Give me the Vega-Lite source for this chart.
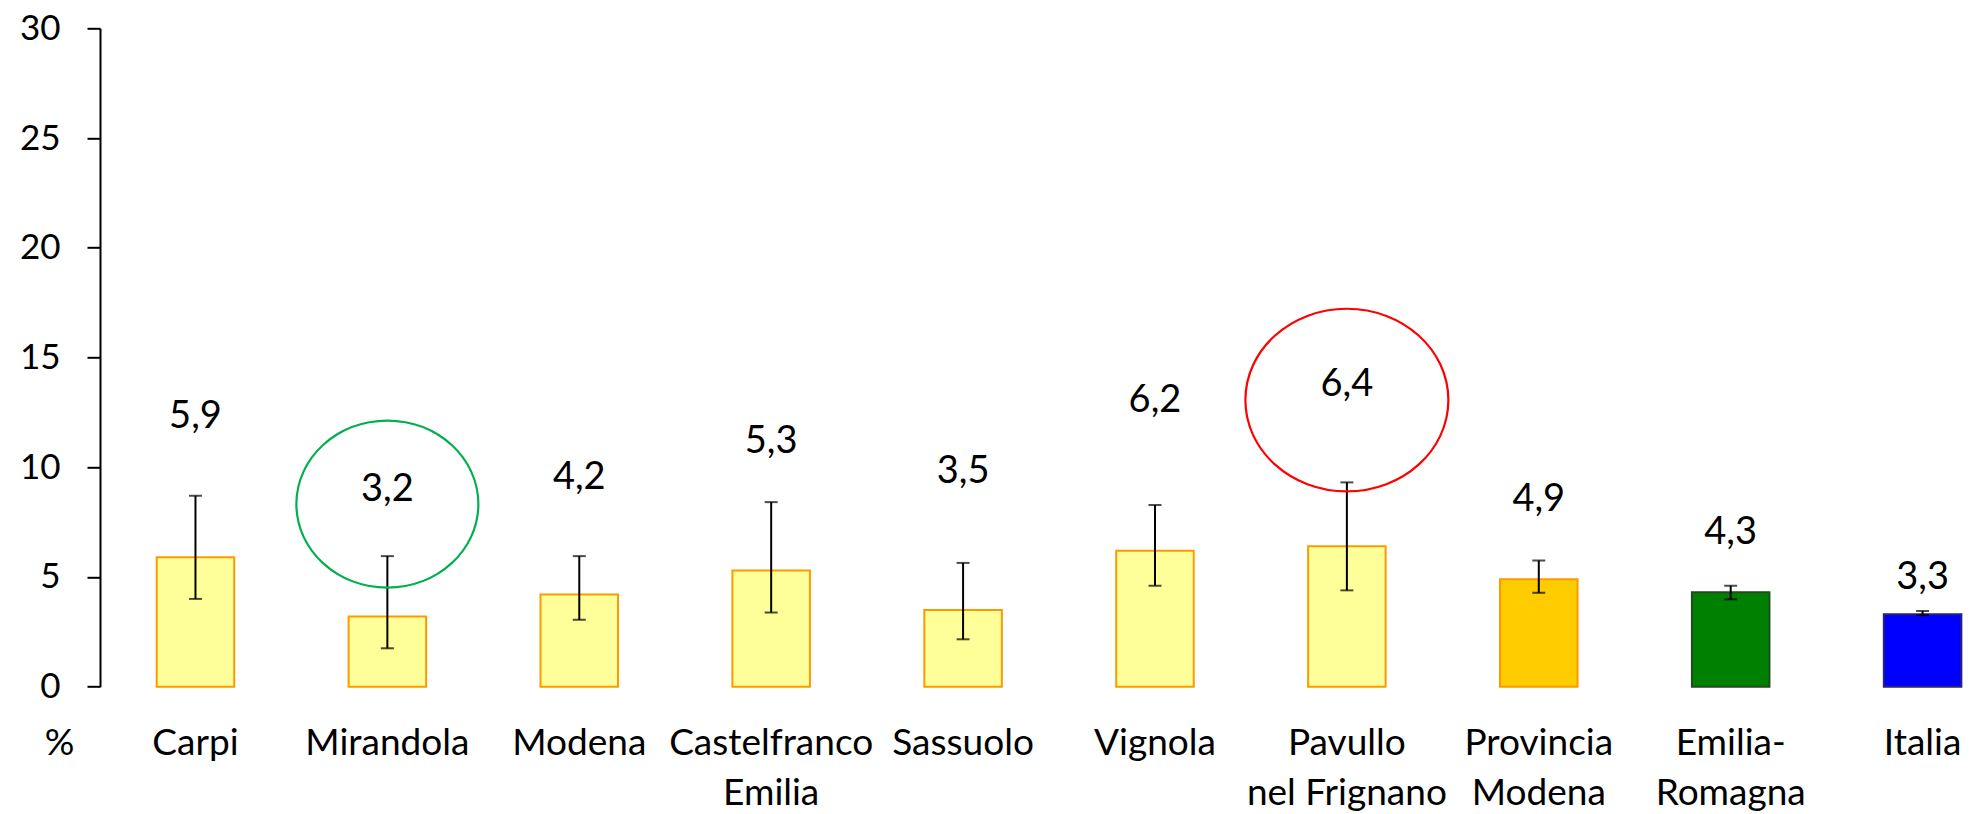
{
  "$schema": "https://vega.github.io/schema/vega-lite/v6.json",
  "width": 1875,
  "height": 658.4,
  "autosize": {"type": "none"},
  "padding": {"left": 100, "top": 28.3, "right": 4, "bottom": 127.3},
  "background": "white",
  "config": {
    "view": {"stroke": null},
    "font": "Lato",
    "locale": {"number": {"decimal": ",", "thousands": ".", "grouping": [3], "currency": ["€", ""]}}
  },
  "datasets": {
    "main": [
      {"luogo": "Carpi", "tipo": "comune", "valore": 5.9, "lo": 4.0, "hi": 8.7, "ly": 12.3},
      {"luogo": "Mirandola", "tipo": "comune", "valore": 3.2, "lo": 1.75, "hi": 5.95, "ly": 8.95},
      {"luogo": "Modena", "tipo": "comune", "valore": 4.2, "lo": 3.05, "hi": 5.95, "ly": 9.5},
      {"luogo": "Castelfranco Emilia", "tipo": "comune", "valore": 5.3, "lo": 3.38, "hi": 8.41, "ly": 11.15},
      {"luogo": "Sassuolo", "tipo": "comune", "valore": 3.5, "lo": 2.16, "hi": 5.64, "ly": 9.78},
      {"luogo": "Vignola", "tipo": "comune", "valore": 6.2, "lo": 4.6, "hi": 8.28, "ly": 13.0},
      {"luogo": "Pavullo nel Frignano", "tipo": "comune", "valore": 6.4, "lo": 4.39, "hi": 9.31, "ly": 13.75},
      {"luogo": "Provincia Modena", "tipo": "provincia", "valore": 4.9, "lo": 4.28, "hi": 5.75, "ly": 8.5},
      {"luogo": "Emilia-Romagna", "tipo": "regione", "valore": 4.3, "lo": 3.98, "hi": 4.6, "ly": 7.0},
      {"luogo": "Italia", "tipo": "italia", "valore": 3.3, "lo": 3.26, "hi": 3.45, "ly": 4.97}
    ],
    "ellissi": [
      {"luogo": "Mirandola", "cy": 8.32, "colore": "verde"},
      {"luogo": "Pavullo nel Frignano", "cy": 13.06, "colore": "rosso"}
    ]
  },
  "encoding": {
    "x": {
      "field": "luogo",
      "type": "nominal",
      "sort": null,
      "scale": {
        "domain": ["Carpi", "Mirandola", "Modena", "Castelfranco Emilia", "Sassuolo", "Vignola", "Pavullo nel Frignano", "Provincia Modena", "Emilia-Romagna", "Italia"],
        "paddingInner": 0.596,
        "paddingOuter": 0.1833,
        "align": 0.806,
        "round": false
      },
      "axis": {
        "title": null,
        "domain": false,
        "ticks": false,
        "tickSize": 0,
        "labelAngle": 0,
        "labelFont": "Lato",
        "labelFontSize": 37,
        "labelColor": "black",
        "labelPadding": 38.3,
        "labelLineHeight": 50,
        "labelLimit": 500,
        "labelOverlap": false,
        "labelExpr": "datum.label == 'Castelfranco Emilia' ? ['Castelfranco', 'Emilia'] : datum.label == 'Pavullo nel Frignano' ? ['Pavullo', 'nel Frignano'] : datum.label == 'Provincia Modena' ? ['Provincia', 'Modena'] : datum.label == 'Emilia-Romagna' ? ['Emilia-', 'Romagna'] : datum.label"
      }
    }
  },
  "layer": [
    {
      "data": {"name": "main"},
      "mark": {"type": "bar", "strokeWidth": 2},
      "encoding": {
        "y": {
          "field": "valore",
          "type": "quantitative",
          "scale": {"domain": [0, 30], "nice": false, "zero": true},
          "axis": {
            "values": [0, 5, 10, 15, 20, 25, 30],
            "grid": false,
            "domainColor": "black",
            "domainWidth": 2,
            "tickColor": "black",
            "tickWidth": 2,
            "tickSize": 13,
            "labelFont": "Lato",
            "labelFontSize": 35,
            "labelColor": "black",
            "labelPadding": 27,
            "title": "%",
            "titleAngle": 0,
            "titleFont": "Lato",
            "titleFontSize": 37,
            "titleFontWeight": "normal",
            "titleColor": "black",
            "titleAlign": "center",
            "titleBaseline": "alphabetic",
            "titleX": -41,
            "titleY": 725.7
          }
        },
        "fill": {
          "field": "tipo",
          "type": "nominal",
          "legend": null,
          "scale": {"domain": ["comune", "provincia", "regione", "italia"], "range": ["#FFFF99", "#FFCC00", "#008000", "#0000FF"]}
        },
        "stroke": {
          "field": "tipo",
          "type": "nominal",
          "legend": null,
          "scale": {"domain": ["comune", "provincia", "regione", "italia"], "range": ["#FF9900", "#FF9900", "#1E4D1E", "#24247A"]}
        }
      }
    },
    {
      "data": {"name": "main"},
      "mark": {"type": "rule", "strokeWidth": 2, "color": "black"},
      "encoding": {
        "y": {"field": "lo", "type": "quantitative"},
        "y2": {"field": "hi"}
      }
    },
    {
      "data": {"name": "main"},
      "mark": {"type": "tick", "orient": "horizontal", "size": 13, "thickness": 2, "color": "black"},
      "encoding": {"y": {"field": "lo", "type": "quantitative"}}
    },
    {
      "data": {"name": "main"},
      "mark": {"type": "tick", "orient": "horizontal", "size": 13, "thickness": 2, "color": "black"},
      "encoding": {"y": {"field": "hi", "type": "quantitative"}}
    },
    {
      "data": {"name": "main"},
      "mark": {"type": "text", "font": "Lato", "fontSize": 38, "color": "black", "baseline": "middle", "align": "center"},
      "encoding": {
        "y": {"field": "ly", "type": "quantitative"},
        "text": {"field": "valore", "type": "quantitative", "format": ".1f"}
      }
    },
    {
      "data": {"name": "ellissi"},
      "transform": [{"filter": "datum.colore == 'verde'"}],
      "mark": {
        "type": "point",
        "filled": false,
        "shape": "M -1 0 A 1 0.918 0 1 1 1 0 A 1 0.918 0 1 1 -1 0 Z",
        "size": 33124,
        "stroke": "#00B050",
        "strokeWidth": 2.2,
        "opacity": 1,
        "dx": -2
      },
      "encoding": {"y": {"field": "cy", "type": "quantitative"}}
    },
    {
      "data": {"name": "ellissi"},
      "transform": [{"filter": "datum.colore == 'rosso'"}],
      "mark": {
        "type": "point",
        "filled": false,
        "shape": "M -1 0 A 1 0.90 0 1 1 1 0 A 1 0.90 0 1 1 -1 0 Z",
        "size": 41209,
        "stroke": "#FF0000",
        "strokeWidth": 2.2,
        "opacity": 1,
        "dx": 5
      },
      "encoding": {"y": {"field": "cy", "type": "quantitative"}}
    }
  ]
}
